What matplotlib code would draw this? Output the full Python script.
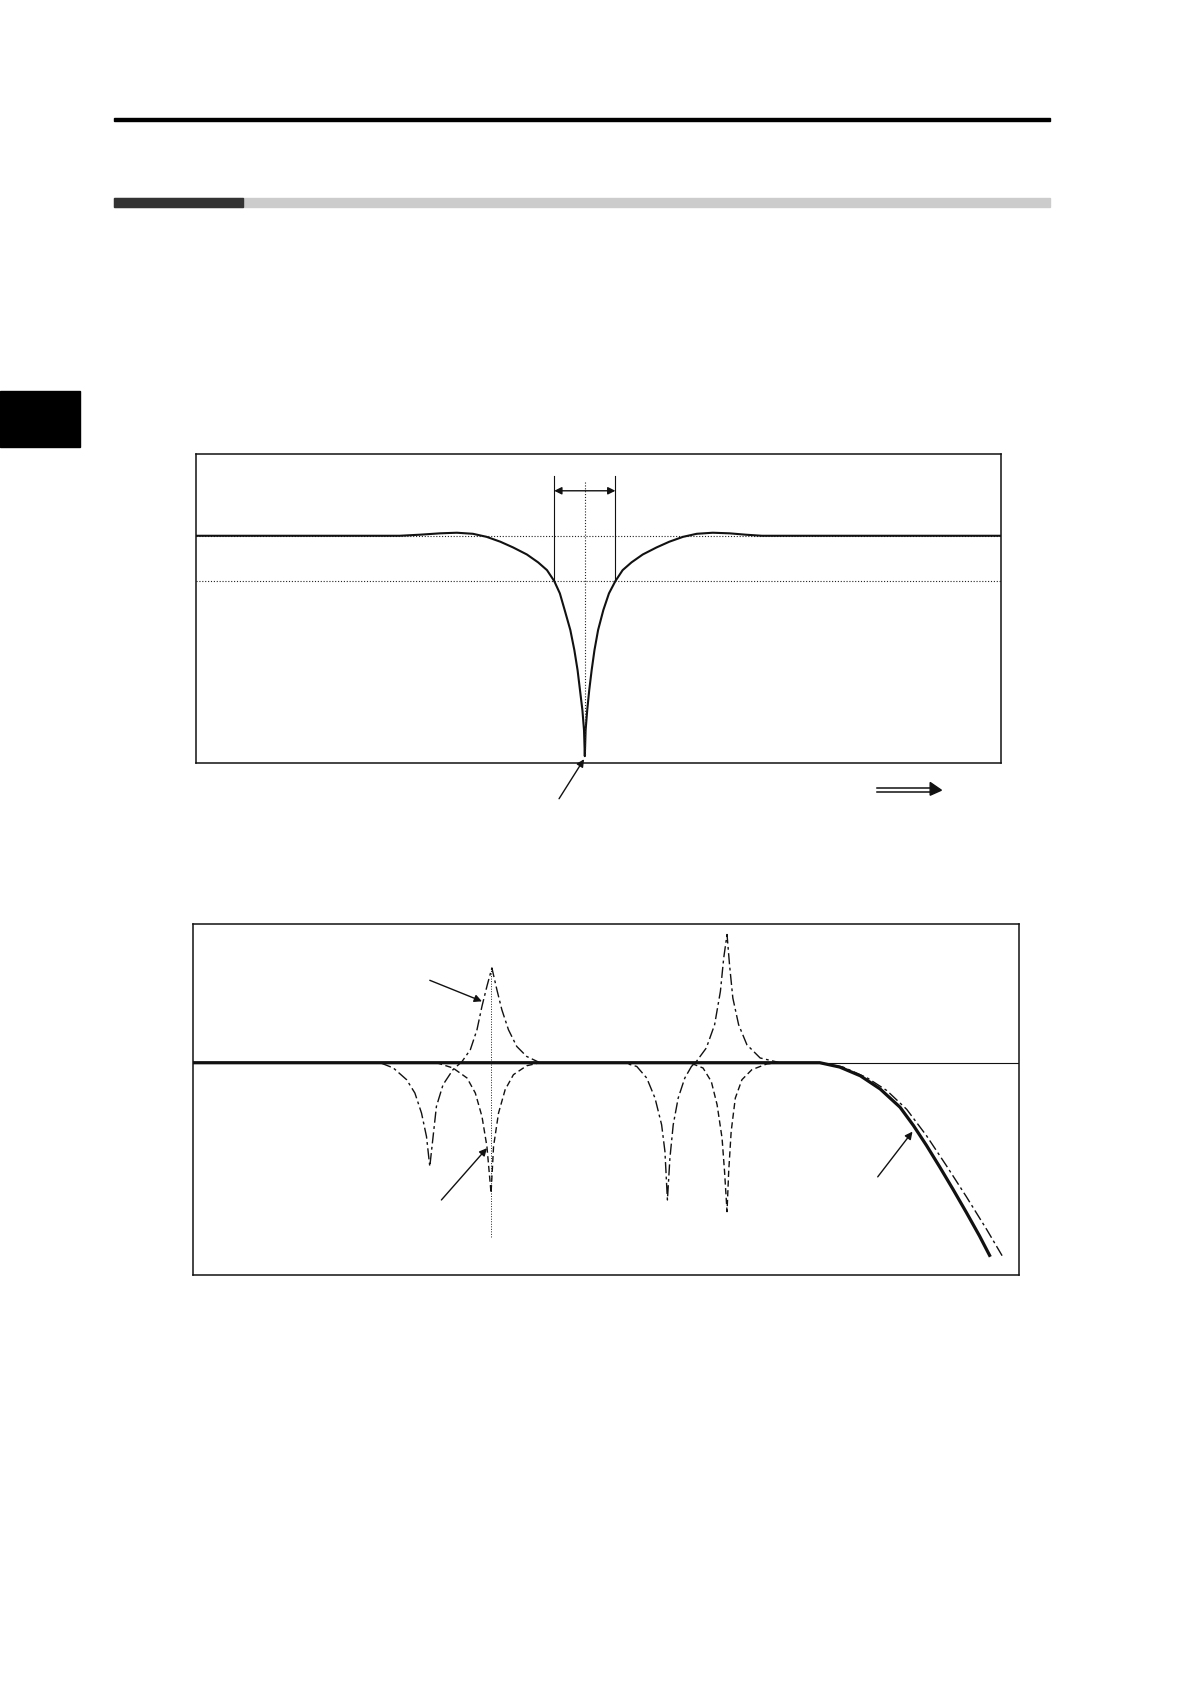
import matplotlib
matplotlib.use("Agg")
import matplotlib.pyplot as plt
from matplotlib.patches import Rectangle, Polygon

W, H = 1190, 1684

# --- chart 1: notch filter gain (x: 0-100 across the box, y: dB) ---
NOTCH_F = [0, 25.3, 27.8, 30.3, 32.4, 34.4, 36.1, 37.8, 39.4, 41.1, 42.5, 43.6, 44.5,
           45.2, 45.8, 46.5, 47.0, 47.4, 47.7, 48.0, 48.2, 48.3,
           48.4, 48.6, 48.85, 49.15, 49.5, 49.95, 50.6, 51.3, 52.1,
           53.0, 54.1, 55.5, 57.2, 58.8, 60.5, 62.2, 64.2, 66.3, 68.3, 70.3, 100]
NOTCH_DB = [0, 0, 0.07, 0.16, 0.2, 0.13, -0.07, -0.39, -0.77, -1.23, -1.75, -2.26, -2.98,
            -3.79, -4.89, -6.2, -7.52, -8.84, -10.15, -11.47, -12.78, -14.5,
            -12.78, -11.47, -10.15, -8.84, -7.52, -6.2, -4.89, -3.79, -2.98,
            -2.26, -1.75, -1.23, -0.77, -0.39, -0.07, 0.13, 0.2, 0.16, 0.07, 0, 0]
BW_EDGES = [44.5, 52.1]      # -3 dB crossings
NOTCH_CENTER = 48.3
CUTOFF_DB = -3.0

# --- chart 2: mechanical response (dash-dot), filter (dashed), total (solid) ---
MECH_F = [0, 22.6, 24.2, 25.8, 26.8, 27.6, 28.2, 28.6, 29.0, 29.4, 30.2, 31.4, 32.5, 33.5,
          34.3, 34.9, 35.5, 36.1, 36.7, 37.3, 38.1, 39.1, 40.3, 41.9,
          52.0, 53.6, 54.8, 55.8, 56.6, 57.0, 57.3, 57.6, 58.0, 58.6, 59.4, 60.2, 60.8,
          62.0, 63.0, 63.7, 64.1, 64.5, 64.8, 65.2, 65.9, 66.9, 68.5, 70.9,
          75.7, 78.5, 81.4, 83.8, 86.2, 88.6, 91.0, 93.4, 95.9, 97.8]
MECH_DB = [0, 0, -0.38, -1.22, -2.18, -3.62, -5.30, -7.46, -5.30, -3.14, -1.58, -0.50, 0.09, 0.94,
           2.37, 4.05, 5.49, 6.81, 5.25, 3.81, 2.37, 1.17, 0.45, 0,
           0, -0.27, -1.10, -2.54, -4.46, -6.38, -9.86, -6.86, -4.46, -2.54, -1.10, -0.27, 0.09,
           1.06, 2.73, 5.13, 7.53, 9.21, 7.05, 4.65, 2.73, 1.29, 0.34, 0,
           0, -0.31, -1.08, -2.0, -3.35, -5.25, -7.4, -9.62, -12.02, -13.94]

FILTER_F = [0, 29.4, 31.4, 33.1, 34.1, 34.9, 35.5, 36.0, 36.3, 36.9, 37.7, 38.7, 40.3, 41.9,
            60.0, 61.6, 62.6, 63.3, 63.9, 64.2, 64.5, 64.7, 65.0, 65.5, 66.3, 67.5, 69.3, 70.9]
FILTER_DB = [0, 0, -0.38, -1.10, -2.18, -3.86, -6.02, -9.37, -6.02, -3.62, -1.94, -0.86, -0.22, 0,
             0, -0.38, -1.35, -3.02, -5.42, -7.82, -10.7, -7.82, -4.94, -2.54, -1.22, -0.50, -0.09, 0]

TOTAL_F = [0, 75.7, 78.1, 80.6, 83.0, 85.4, 87.0, 88.6, 90.2, 91.8, 93.4, 95.0, 96.3]
TOTAL_DB = [0, 0, -0.31, -0.94, -1.89, -3.2, -4.5, -5.95, -7.5, -9.1, -10.75, -12.45, -13.94]

RES_MARK = 36.05


def box_axes(fig, left, top, right, bottom):
    """Axes placed by its pixel box on the page."""
    ax = fig.add_axes([left / W, 1 - bottom / H, (right - left) / W, (bottom - top) / H])
    ax.set_xticks([])
    ax.set_yticks([])
    for s in ax.spines.values():
        s.set_linewidth(1.1)
        s.set_color("#111111")
    return ax


def arrow(ax, tail, head, style="-|>"):
    ax.annotate("", xy=head, xytext=tail, annotation_clip=False,
                arrowprops=dict(arrowstyle=style, color="#111111", lw=1.0,
                                shrinkA=0, shrinkB=0, mutation_scale=11))


fig = plt.figure(figsize=(W / 100, H / 100), dpi=100)

# page furniture
page = fig.add_axes([0, 0, 1, 1])
page.set_xlim(0, W)
page.set_ylim(H, 0)
page.axis("off")
page.add_patch(Rectangle((114, 117.5), 936, 3, color="black"))
page.add_patch(Rectangle((114, 198), 936, 9, color="#cccccc"))
page.add_patch(Rectangle((114, 198), 129, 9, color="#333333"))
page.add_patch(Rectangle((0, 391), 80, 56, color="black"))

# chart 1
ax1 = box_axes(fig, 196, 454, 1001, 763)
ax1.set_xlim(0, 100)
ax1.set_ylim(-14.95, 5.38)
ax1.axhline(0, color="#222222", lw=0.8, ls=(0, (1, 1.6)))
ax1.axhline(CUTOFF_DB, color="#222222", lw=0.8, ls=(0, (1, 1.6)))
ax1.plot(NOTCH_F, NOTCH_DB, color="#111111", lw=1.5, solid_joinstyle="round")
for f in BW_EDGES:
    ax1.plot([f, f], [CUTOFF_DB, 3.93], color="#111111", lw=0.8)
ax1.plot([NOTCH_CENTER, NOTCH_CENTER], [3.55, NOTCH_DB[NOTCH_F.index(NOTCH_CENTER)]],
         color="#222222", lw=0.8, ls=(0, (1, 1.6)))
arrow(ax1, (BW_EDGES[0], 2.96), (BW_EDGES[1], 2.96), style="<|-|>")
arrow(ax1, (45.1, -17.3), (48.2, -14.7))

# frequency direction arrow below chart 1 (double shaft)
for yy in (-16.61, -16.83):
    ax1.plot([84.6, 91.3], [yy, yy], color="#111111", lw=1.1, clip_on=False)
ax1.add_patch(Polygon([(91.2, -16.23), (92.6, -16.74), (91.2, -17.07)], closed=True,
                      color="#111111", clip_on=False))

# chart 2
ax2 = box_axes(fig, 193, 923.5, 1019.3, 1275)
ax2.set_xlim(0, 99.8)
ax2.set_ylim(-15.25, 10.0)
ax2.axhline(0, color="#111111", lw=0.8)
ax2.plot([RES_MARK, RES_MARK], [6.81, -12.5], color="#222222", lw=0.7, ls=(0, (1, 1.6)))
ax2.plot(FILTER_F, FILTER_DB, color="#111111", lw=1.0, ls=(0, (4.5, 2.5)))
ax2.plot(MECH_F, MECH_DB, color="#111111", lw=1.0, ls=(0, (8, 2.5, 2, 2.5)))
ax2.plot(TOTAL_F, TOTAL_DB, color="#111111", lw=2.3, solid_capstyle="butt",
         solid_joinstyle="round")
arrow(ax2, (28.6, 5.92), (34.9, 4.41))
arrow(ax2, (30.0, -9.86), (35.5, -6.14))
arrow(ax2, (82.7, -8.2), (86.9, -4.95))

fig.savefig("out.png", dpi=100)
